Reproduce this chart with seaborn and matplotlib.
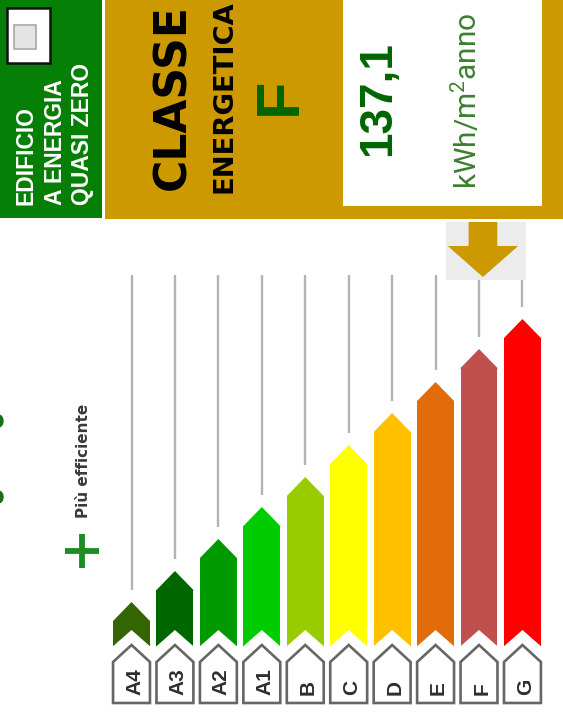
import numpy as np
import pandas as pd
import matplotlib
matplotlib.use("Agg")
import matplotlib.pyplot as plt
import seaborn as sns
from matplotlib.patches import Rectangle, Polygon, Ellipse

# ---- data ----
classes = ["A4", "A3", "A2", "A1", "B", "C", "D", "E", "F", "G"]
levels = [45, 76, 108, 140, 170, 202, 234, 265, 298, 328]
colors = ["#336600", "#006600", "#009900", "#00cc00", "#99cc00",
          "#ffff00", "#ffc000", "#e36c0a", "#c0504d", "#ff0000"]
current_class = "F"
value_text = "137,1"
unit_text = "kWh/m$^{2}$anno"
header_left = ["EDIFICIO", "A ENERGIA", "QUASI ZERO"]
title_1 = "CLASSE"
title_2 = "ENERGETICA"
side_label = "Più efficiente"

# ---- style ----
W, H = 563, 717
TIP = 19      # arrow head height
NOTCH = 17    # bottom notch depth
GAP = 12      # gap between guide line and arrow tip
TOP = 372     # top of guide lines
GOLD = "#cc9900"
DKGREEN = "#006600"

sns.set_theme(style="white")
plt.rcParams["font.family"] = ["DejaVu Sans"]
plt.rcParams["mathtext.fontset"] = "custom"
plt.rcParams["mathtext.rm"] = "Roboto"
plt.rcParams["mathtext.it"] = "Roboto:italic"
plt.rcParams["mathtext.bf"] = "Roboto:bold"

fig = plt.figure(figsize=(W / 100, H / 100), dpi=100)
bg = fig.add_axes([0, 0, 1, 1])
bg.set_xlim(0, W)
bg.set_ylim(H, 0)
bg.axis("off")

# header panels
bg.add_patch(Rectangle((0, 0), 102, 218, fc="#067f06", lw=0))
bg.add_patch(Rectangle((105, 0), W - 105, 219, fc=GOLD, lw=0))
bg.add_patch(Rectangle((343, 0), 199, 206, fc="white", lw=0))

# checkbox
bg.add_patch(Rectangle((7, 8), 43, 55, fc="white", ec="#111111", lw=1.8))
bg.add_patch(Rectangle((14, 25), 22, 24, fc="#e4e4e4", ec="#a8a8a8", lw=1.2))

for xb, txt in zip([33, 62, 89], header_left):
    bg.text(xb, 205, txt, rotation=90, rotation_mode="anchor", ha="left",
            va="baseline", color="white", fontsize=16.5, fontweight="bold",
            family="Liberation Sans")

bg.text(185, 190, title_1, rotation=90, rotation_mode="anchor", ha="left",
        va="baseline", color="black", fontsize=31.7, fontweight="bold",
        family="DejaVu Sans")
bg.text(231, 193, title_2, rotation=90, rotation_mode="anchor", ha="left",
        va="baseline", color="black", fontsize=19.7, fontweight="bold",
        family="DejaVu Sans")
bg.text(296, 96, current_class, rotation=90, rotation_mode="anchor", ha="center",
        va="baseline", color=DKGREEN, fontsize=44, fontweight="bold",
        family="Liberation Sans")
bg.text(390, 99, value_text, rotation=90, rotation_mode="anchor", ha="center",
        va="baseline", color=DKGREEN, fontsize=33, fontweight="bold",
        family="Liberation Sans")
bg.text(477, 101, unit_text, rotation=90, rotation_mode="anchor", ha="center",
        va="baseline", color="#3b7f2f", fontsize=21.5, family="Roboto")

# side label
bg.text(88, 461, side_label, rotation=90, rotation_mode="anchor", ha="center",
        va="baseline", color="#3a3a3a", fontsize=11, fontweight="bold",
        family="DejaVu Sans")
bg.plot(82, 551, marker="+", ms=25, mew=4.2, color="#1f8b24")
for yc in (421, 497):
    bg.add_patch(Ellipse((-1.5, yc), 9, 12, fc="#1a6e1a", ec="#1a6e1a", lw=1))

# ---- bar chart ----
axb = fig.add_axes([109.78 / W, (H - 707) / H, 434.4 / W, 487 / H])
axb.patch.set_alpha(0)
df = pd.DataFrame({"classe": classes, "body": [l - TIP for l in levels]})
sns.barplot(data=df, x="classe", y="body", hue="classe", palette=colors,
            legend=False, saturation=1, width=0.85, ax=axb, linewidth=0,
            zorder=2)
axb.set_xlim(-0.5, 9.5)
axb.set_ylim(-60, 427)
axb.axis("off")

for p, cls in zip(list(axb.patches), classes):
    x0, w, h = p.get_x(), p.get_width(), p.get_height()
    xc = x0 + w / 2
    fc = p.get_facecolor()
    axb.add_patch(Polygon([(x0, h - 1), (x0, h), (xc, h + TIP), (x0 + w, h),
                           (x0 + w, h - 1)], closed=True, fc=fc, lw=0, zorder=2))
    axb.add_patch(Polygon([(x0 - 0.02, 0), (xc, NOTCH), (x0 + w + 0.02, 0),
                           (x0 + w + 0.02, -1), (x0 - 0.02, -1)], closed=True,
                          fc="white", lw=0, zorder=3))
    axb.plot([xc, xc], [h + TIP + GAP, TOP], color="#b3b3b3", lw=1.7,
             zorder=1, solid_capstyle="butt")
    axb.add_patch(Polygon([(x0, -15), (xc, 2), (x0 + w, -15), (x0 + w, -56),
                           (x0, -56)], closed=True, fc="white", ec="#666666",
                          lw=1.9, zorder=4, joinstyle="miter", clip_on=False))
    axb.text(xc + 8.5 / 43.44, -48, cls, rotation=90, rotation_mode="anchor",
             ha="left", va="baseline", fontsize=15, fontweight="bold",
             family="Liberation Sans", color="#2e2e2e", zorder=5)

# indicator arrow above current class
idx = classes.index(current_class)
axb.add_patch(Rectangle((idx + 0.16 - 0.92, 367), 1.84, 58, fc="#ececec",
                        lw=0, zorder=5, clip_on=False))
cx = idx + 0.09
axb.add_patch(Polygon([(cx - 0.33, 425), (cx + 0.33, 425), (cx + 0.33, 401),
                       (cx + 0.81, 401), (cx, 370), (cx - 0.81, 401),
                       (cx - 0.33, 401)], closed=True, fc=GOLD, lw=0,
                      zorder=6, clip_on=False))

fig.savefig("out.png", dpi=100)
